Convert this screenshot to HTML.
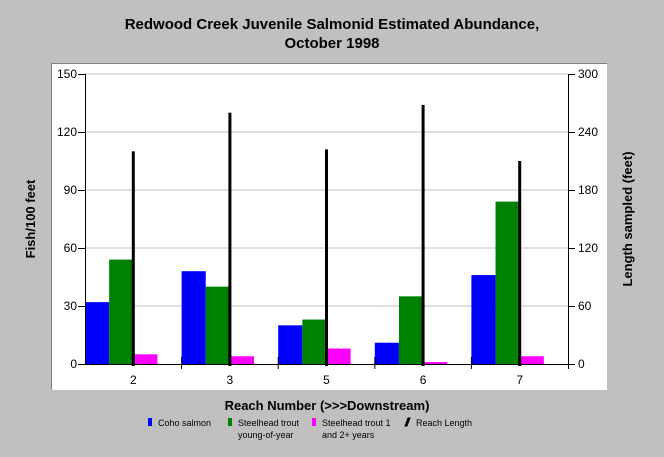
<!DOCTYPE html>
<html><head><meta charset="utf-8"><style>
body{margin:0;background:#c0c0c0;}
svg{display:block;font-family:"Liberation Sans",Arial,sans-serif;}
</style></head><body>
<svg id="chart" width="664" height="457" viewBox="0 0 664 457" xmlns="http://www.w3.org/2000/svg">
<rect width="664" height="457" fill="#c0c0c0"/>
<text x="332" y="29" text-anchor="middle" font-size="15" font-weight="bold">Redwood Creek Juvenile Salmonid Estimated Abundance,</text>
<text x="332" y="48" text-anchor="middle" font-size="15" font-weight="bold">October 1998</text>
<rect x="51" y="63" width="556" height="327" fill="#fff"/>
<line x1="51" y1="63.5" x2="607" y2="63.5" stroke="#808080"/>
<line x1="51.5" y1="63" x2="51.5" y2="390" stroke="#808080"/>
<g id="grid"></g><g id="bars"></g><g id="axes"></g>
<text transform="translate(35,219) rotate(-90)" text-anchor="middle" font-size="13" font-weight="bold">Fish/100 feet</text>
<text transform="translate(632,219) rotate(-90)" text-anchor="middle" font-size="13" font-weight="bold">Length sampled (feet)</text>
<text x="327" y="410" text-anchor="middle" font-size="13" font-weight="bold">Reach Number (&gt;&gt;&gt;Downstream)</text>
<g font-size="9">
<g><rect x="148" y="418" width="4" height="8" fill="#0000ff"/><text x="158" y="426">Coho salmon</text></g>
<g><rect x="228" y="418" width="4" height="8" fill="#008000"/><text x="238" y="426">Steelhead trout</text><text x="238" y="438">young-of-year</text></g>
<g><rect x="312" y="418" width="4" height="8" fill="#ff00ff"/><text x="322" y="426">Steelhead trout 1</text><text x="322" y="438">and 2+ years</text></g>
<g><path d="M405 426 L408 418 L410 418 L407 426Z" fill="#000" stroke="#000"/><text x="416" y="426">Reach Length</text></g>
</g>
</svg>
<script>
const categories=["2","3","5","6","7"];
const coho=[32,48,20,11,46];
const steelheadYoy=[54,40,23,35,84];
const steelheadOlder=[5,4,8,1,4];
const reachLength=[220,260,222,268,210];
const leftTicks=[0,30,60,90,120,150];
const rightTicks=[0,60,120,180,240,300];

const NS="http://www.w3.org/2000/svg";
const X0=85,X1=568,Y0=364,Y1=74;
const yL=v=>Y0-(v/150)*(Y0-Y1);
const yR=v=>Y0-(v/300)*(Y0-Y1);
const bw=(X1-X0)/categories.length;
const xc=i=>X0+bw*i+bw/2;
function mk(tag,attrs,parent){const e=document.createElementNS(NS,tag);for(const k in attrs)e.setAttribute(k,attrs[k]);parent.appendChild(e);return e;}
const grid=document.getElementById('grid'),bars=document.getElementById('bars'),axes=document.getElementById('axes');
leftTicks.forEach(t=>{if(t>0){const l=mk('line',{x1:X0,x2:X1,y1:yL(t),y2:yL(t),stroke:'#c0c0c0'},grid);

}});
const slot=bw/4;
categories.forEach((c,i)=>{
 const gx=X0+bw*i;
 const series=[[coho,'#0000ff','bar-coho'],[steelheadYoy,'#008000','bar-steelhead-yoy'],[steelheadOlder,'#ff00ff','bar-steelhead-older']];
 series.forEach((s,j)=>{
  const v=s[0][i];
  const r=mk('rect',{x:gx+slot*j,y:yL(v),width:slot,height:Y0-yL(v),fill:s[1]},bars);
  
  
 });
 const rl=mk('rect',{x:xc(i)-1.5,y:yR(reachLength[i]),width:3,height:Y0-yR(reachLength[i])+2,fill:'#000'},bars);
 
 
 const lab=mk('text',{x:xc(i),y:Y0+20,'text-anchor':'middle','font-size':12},axes);
 lab.textContent=c;
 
 
 if(i>0){const tk=mk('line',{x1:gx,x2:gx,y1:Y0-7,y2:Y0+5,stroke:'#000'},axes);
 
 }
});
const ax=mk('path',{d:`M${X0+.5} ${Y1} V${Y0+.5} H${X1+.5} V${Y1}`,fill:'none',stroke:'#000'},axes);


const xe=mk('line',{x1:X1+.5,x2:X1+.5,y1:Y0,y2:Y0+5,stroke:'#000'},axes);


leftTicks.forEach(t=>{
 const l=mk('line',{x1:X0-7,x2:X0,y1:yL(t)+.5,y2:yL(t)+.5,stroke:'#000'},axes);
 
 
 const tx=mk('text',{x:X0-8,y:yL(t)+4,'text-anchor':'end','font-size':12},axes);
 tx.textContent=t;
 
 
});
rightTicks.forEach(t=>{
 const l=mk('line',{x1:X1,x2:X1+7,y1:yR(t)+.5,y2:yR(t)+.5,stroke:'#000'},axes);
 
 
 const tx=mk('text',{x:X1+10,y:yR(t)+4,'text-anchor':'start','font-size':12},axes);
 tx.textContent=t;
 
 
});
</script>
</body></html>
